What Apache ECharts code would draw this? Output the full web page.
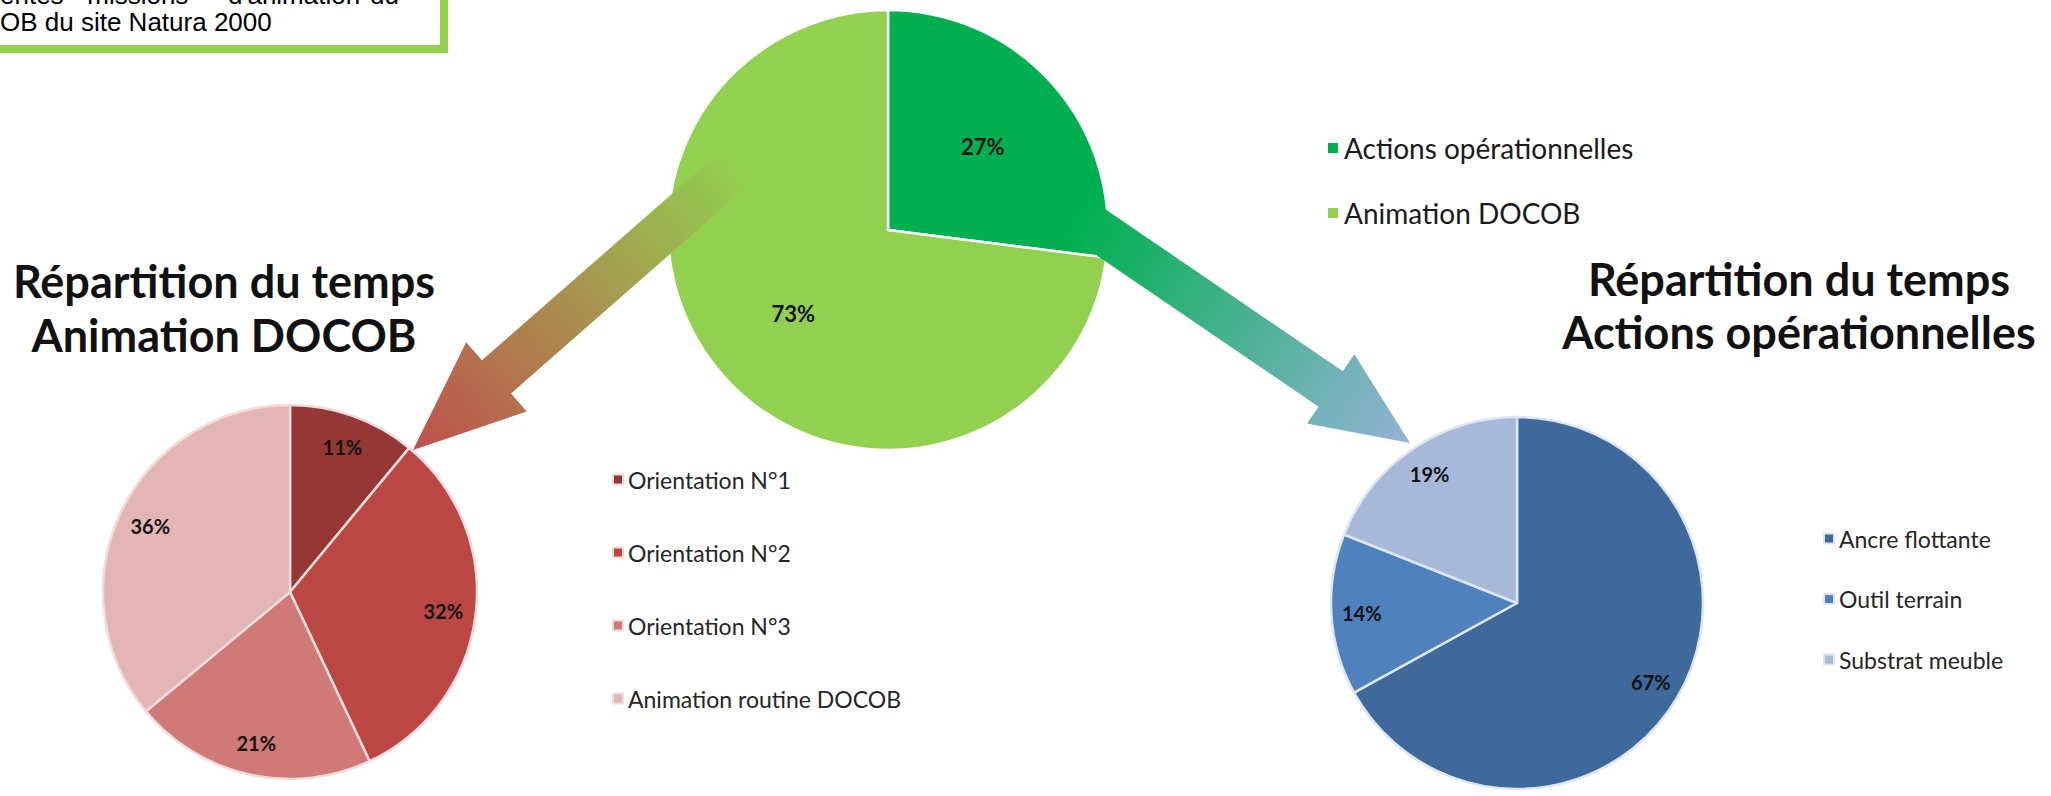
<!DOCTYPE html>
<html>
<head>
<meta charset="utf-8">
<script src="https://cdn.jsdelivr.net/npm/echarts/dist/echarts.min.js"></script>
<style>
  html, body { margin: 0; padding: 0; background: #ffffff; }
  #chart { width: 2051px; height: 796px; }
</style>
</head>
<body>
<div id="chart"></div>
<script>
// ---------------- DATA ----------------
const topCategories = ['Actions opérationnelles', 'Animation DOCOB'];
const topValues = [27, 73];

const leftCategories = ['Orientation N°1', 'Orientation N°2', 'Orientation N°3', 'Animation routine DOCOB'];
const leftValues = [11, 32, 21, 36];

const rightCategories = ['Ancre flottante', 'Outil terrain', 'Substrat meuble'];
const rightValues = [67, 14, 19];

const leftTitleLines = ['Répartition du temps', 'Animation DOCOB'];
const rightTitleLines = ['Répartition du temps', 'Actions opérationnelles'];
const boxLine1Words = ['entes', '"missions"', 'd\'animation"', 'du'];
const boxLine2 = 'OB du site Natura 2000';

// ---------------- STYLES ----------------
const topColors = ['#00B050', '#92D050'];
const leftColors = ['#953735', '#BA4744', '#D07A78', '#E3B5B4'];
const rightColors = ['#3F689B', '#4F81BD', '#A7B8D8'];
const FONT = 'Lato, "Open Sans", sans-serif';
const BOXFONT = '26px "Liberation Sans", Arial';

const chart = echarts.init(document.getElementById('chart'), null, { renderer: 'svg' });

function pieSeries(names, values, colors, center, r, borderColor, labelInner, labelSize) {
  const data = names.map((n, i) => ({ name: n, value: values[i], itemStyle: { color: colors[i] } }));
  const overlay = names.map((n, i) => ({ name: n, value: values[i] }));
  return [
    {
      type: 'pie', center: center, radius: [0, r], startAngle: 90, clockwise: true,
      data: data,
      label: { show: false }, labelLine: { show: false },
      itemStyle: { borderColor: borderColor, borderWidth: 2.5 },
      emphasis: { scale: false },
      animation: false
    },
    {
      type: 'pie', center: center, radius: [r * labelInner, r], startAngle: 90, clockwise: true,
      data: overlay, silent: true, z: 3,
      itemStyle: { color: 'rgba(0,0,0,0)', borderWidth: 0 },
      label: {
        show: true, position: 'inside', rotate: 0, formatter: '{c}%',
        fontFamily: FONT, fontWeight: 'bold', fontSize: labelSize, color: '#141414'
      },
      labelLine: { show: false },
      emphasis: { disabled: true },
      animation: false
    }
  ];
}

function arrow(tail, tip, shaftHalf, headHalf, headLen, c0, c1) {
  const dx = tip[0] - tail[0], dy = tip[1] - tail[1];
  const L = Math.sqrt(dx * dx + dy * dy);
  const ux = dx / L, uy = dy / L, nx = -uy, ny = ux;
  const bx = tip[0] - ux * headLen, by = tip[1] - uy * headLen;
  const pts = [
    [tail[0] + nx * shaftHalf, tail[1] + ny * shaftHalf],
    [bx + nx * shaftHalf, by + ny * shaftHalf],
    [bx + nx * headHalf, by + ny * headHalf],
    [tip[0], tip[1]],
    [bx - nx * headHalf, by - ny * headHalf],
    [bx - nx * shaftHalf, by - ny * shaftHalf],
    [tail[0] - nx * shaftHalf, tail[1] - ny * shaftHalf]
  ];
  return {
    type: 'polygon', z: 100, silent: true,
    shape: { points: pts },
    style: {
      fill: new echarts.graphic.LinearGradient(tail[0], tail[1], tip[0], tip[1],
        [{ offset: 0, color: c0 }, { offset: 1, color: c1 }], true)
    }
  };
}

const titleStyle = { fontFamily: FONT, fontWeight: 'bold', fontSize: 45, fill: '#111111' };

const graphic = [
  // framed note box (top-left, partly cut)
  { type: 'rect', z: 50, shape: { x: -20, y: -20, width: 464, height: 69 },
    style: { fill: '#ffffff', stroke: '#92D050', lineWidth: 8 } },
  { type: 'text', z: 51, x: 0, y: 8, style: { text: boxLine1Words[0], font: BOXFONT, fill: '#000', textVerticalAlign: 'bottom' } },
  { type: 'text', z: 51, x: 78, y: 8, style: { text: boxLine1Words[1], font: BOXFONT, fill: '#000', textVerticalAlign: 'bottom' } },
  { type: 'text', z: 51, x: 228, y: 8, style: { text: boxLine1Words[2], font: BOXFONT, fill: '#000', textVerticalAlign: 'bottom' } },
  { type: 'text', z: 51, x: 370, y: 8, style: { text: boxLine1Words[3], font: BOXFONT, fill: '#000', textVerticalAlign: 'bottom' } },
  { type: 'text', z: 51, x: 0, y: 35, style: { text: boxLine2, font: BOXFONT, fill: '#000', textVerticalAlign: 'bottom' } },
  // titles
  { type: 'text', x: 224, y: 281, style: Object.assign({ text: leftTitleLines[0], textAlign: 'center', textVerticalAlign: 'middle' }, titleStyle) },
  { type: 'text', x: 224, y: 335, style: Object.assign({ text: leftTitleLines[1], textAlign: 'center', textVerticalAlign: 'middle' }, titleStyle) },
  { type: 'text', x: 1799, y: 279, style: Object.assign({ text: rightTitleLines[0], textAlign: 'center', textVerticalAlign: 'middle' }, titleStyle) },
  { type: 'text', x: 1799, y: 332, style: Object.assign({ text: rightTitleLines[1], textAlign: 'center', textVerticalAlign: 'middle' }, titleStyle) },
  // gradient arrows
  arrow([736, 167], [413, 450], 22, 46, 111, '#92D050', '#C0504D'),
  arrow([1080, 218], [1410, 443], 21.5, 42, 96, '#00B050', '#95B3D7')
];

const option = {
  backgroundColor: '#ffffff',
  animation: false,
  legend: [
    { data: topCategories, orient: 'vertical', left: 1326, top: 134, padding: 0, icon: 'rect',
      itemWidth: 12, itemHeight: 12, itemGap: 37, selectedMode: false,
      textStyle: { fontFamily: FONT, fontSize: 28, lineHeight: 28, color: '#1a1a1a' } },
    { data: leftCategories, orient: 'vertical', left: 612, top: 468, padding: 0, icon: 'rect',
      itemWidth: 10, itemHeight: 10, itemGap: 50, selectedMode: false,
      textStyle: { fontFamily: FONT, fontSize: 23, lineHeight: 23, color: '#262626' } },
    { data: rightCategories, orient: 'vertical', left: 1823, top: 527, padding: 0, icon: 'rect',
      itemWidth: 10, itemHeight: 10, itemGap: 37.5, selectedMode: false,
      textStyle: { fontFamily: FONT, fontSize: 23, lineHeight: 23, color: '#262626' } }
  ],
  graphic: graphic,
  series: [].concat(
    pieSeries(topCategories, topValues, topColors, [888, 230], 220, '#ffffff', 0.12, 22),
    pieSeries(leftCategories, leftValues, leftColors, [290, 592], 187, '#F2DCDB', 0.62, 20),
    pieSeries(rightCategories, rightValues, rightColors, [1517, 603], 186, '#DCE6F2', 0.64, 20)
  )
};
chart.setOption(option);
</script>
</body>
</html>
